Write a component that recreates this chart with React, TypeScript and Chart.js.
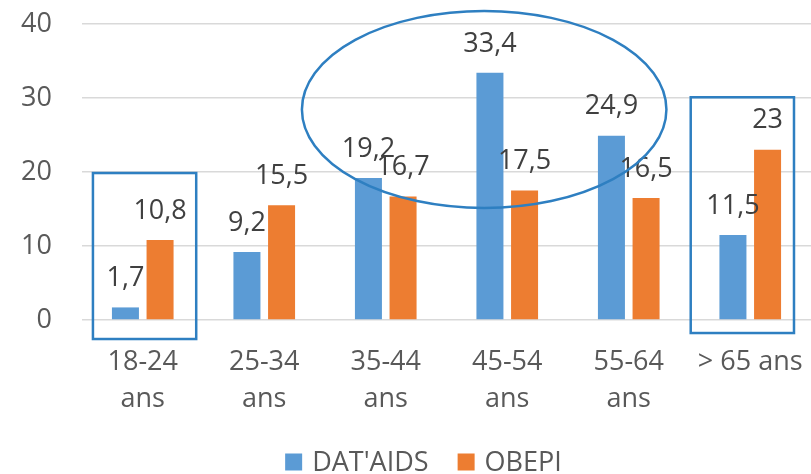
import { useEffect, useRef } from "react";
import { Chart, registerables } from "chart.js";

Chart.register(...registerables);

const categories: (string | string[])[] = [
  ["18-24", "ans"],
  ["25-34", "ans"],
  ["35-44", "ans"],
  ["45-54", "ans"],
  ["55-64", "ans"],
  "> 65 ans",
];
const datAidsValues = [1.7, 9.2, 19.2, 33.4, 24.9, 11.5];
const obepiValues = [10.8, 15.5, 16.7, 17.5, 16.5, 23];
const seriesNames = ["DAT'AIDS", "OBEPI"];
const yTickValues = [0, 10, 20, 30, 40];

// Highlight shapes in data coordinates (x = category index, y = value)
const highlightRects = [
  { x0: -0.41, x1: 0.44, y0: -2.57, y1: 19.86 },
  { x0: 4.51, x1: 5.36, y0: -1.76, y1: 30.1 },
];
const highlightEllipses = [{ cx: 2.81, cy: 28.45, rx: 1.5, ry: 13.31 }];

const BLUE = "#5B9BD5";
const ORANGE = "#ED7D31";
const SHAPE = "#2E7FC1";
const FONT = "'Open Sans', sans-serif";

const fmt = (v: number) => String(v).replace(".", ",");

const labelsPlugin = {
  id: "valueLabels",
  afterDatasetsDraw(chart: any) {
    const ctx = chart.ctx;
    ctx.save();
    ctx.font = `27px ${FONT}`;
    ctx.fillStyle = "#404040";
    ctx.textAlign = "center";
    ctx.textBaseline = "middle";
    chart.data.datasets.forEach((ds: any, di: number) => {
      const meta = chart.getDatasetMeta(di);
      meta.data.forEach((bar: any, i: number) => {
        ctx.fillText(fmt(ds.data[i]), bar.x, bar.y - 29);
      });
    });
    ctx.restore();
  },
};

const shapesPlugin = {
  id: "highlightShapes",
  afterDraw(chart: any) {
    const ctx = chart.ctx;
    const xs = chart.scales.x;
    const ys = chart.scales.y;
    ctx.save();
    ctx.strokeStyle = SHAPE;
    ctx.lineWidth = 2.5;
    highlightRects.forEach((r) => {
      const x0 = xs.getPixelForValue(r.x0);
      const x1 = xs.getPixelForValue(r.x1);
      const y0 = ys.getPixelForValue(r.y0);
      const y1 = ys.getPixelForValue(r.y1);
      ctx.strokeRect(x0, y1, x1 - x0, y0 - y1);
    });
    highlightEllipses.forEach((e) => {
      const cx = xs.getPixelForValue(e.cx);
      const cy = ys.getPixelForValue(e.cy);
      const rx = Math.abs(xs.getPixelForValue(e.cx + e.rx) - cx);
      const ry = Math.abs(ys.getPixelForValue(e.cy + e.ry) - cy);
      ctx.beginPath();
      ctx.ellipse(cx, cy, rx, ry, 0, 0, Math.PI * 2);
      ctx.stroke();
    });
    ctx.restore();
  },
};

// Custom bottom legend (box + text, centred a little right of the canvas middle)
const legendPlugin = {
  id: "bottomLegend",
  afterDraw(chart: any) {
    const ctx = chart.ctx;
    ctx.save();
    ctx.font = `27px ${FONT}`;
    ctx.textBaseline = "middle";
    ctx.textAlign = "left";
    const box = 17;
    const gap = 10;
    const itemGap = 29;
    const items = chart.data.datasets.map((ds: any) => ({
      label: ds.label,
      color: ds.backgroundColor,
      w: ctx.measureText(ds.label).width,
    }));
    const total =
      items.reduce((s: number, it: any) => s + box + gap + it.w, 0) +
      itemGap * (items.length - 1);
    let x = chart.width / 2 + 18 - total / 2;
    const cy = chart.height - 12;
    items.forEach((it: any) => {
      ctx.fillStyle = it.color;
      ctx.fillRect(x, cy - box / 2, box, box);
      x += box + gap;
      ctx.fillStyle = "#595959";
      ctx.fillText(it.label, x, cy + 1);
      x += it.w + itemGap;
    });
    ctx.restore();
  },
};

export default function App() {
  const ref = useRef<HTMLCanvasElement>(null);
  useEffect(() => {
    document.body.style.margin = "0";
    const chart = new Chart(ref.current!, {
      type: "bar",
      data: {
        labels: categories,
        datasets: [
          {
            label: seriesNames[0],
            data: datAidsValues,
            backgroundColor: BLUE,
            categoryPercentage: 0.57,
            barPercentage: 0.78,
          },
          {
            label: seriesNames[1],
            data: obepiValues,
            backgroundColor: ORANGE,
            categoryPercentage: 0.57,
            barPercentage: 0.78,
          },
        ],
      },
      options: {
        animation: false,
        responsive: false,
        layout: { padding: { top: 24, right: 0, left: 0, bottom: 54 } },
        plugins: {
          tooltip: { enabled: false },
          legend: { display: false },
        },
        scales: {
          x: {
            grid: { display: false, drawTicks: false },
            border: { display: false },
            ticks: {
              color: "#595959",
              font: { family: FONT, size: 27, lineHeight: 1.4 },
              padding: 23,
              maxRotation: 0,
              autoSkip: false,
            },
            afterFit: (scale: any) => {
              scale.height = 100;
              scale.paddingLeft = 0;
              scale.paddingRight = 0;
            },
          },
          y: {
            min: 0,
            max: 40,
            afterBuildTicks: (scale: any) => {
              scale.ticks = yTickValues.map((v) => ({ value: v }));
            },
            grid: { color: "#D9D9D9", lineWidth: 1.5, drawTicks: false },
            border: { display: false },
            ticks: {
              color: "#595959",
              font: { family: FONT, size: 27 },
              padding: 30,
            },
            afterFit: (scale: any) => {
              scale.width = 82;
              scale.paddingTop = 0;
              scale.paddingBottom = 0;
            },
          },
        },
      },
      plugins: [labelsPlugin, shapesPlugin, legendPlugin],
    });
    return () => chart.destroy();
  }, []);
  return (
    <div style={{ width: 811, height: 474 }}>
      <canvas ref={ref} width={811} height={474} style={{ display: "block" }} />
    </div>
  );
}
